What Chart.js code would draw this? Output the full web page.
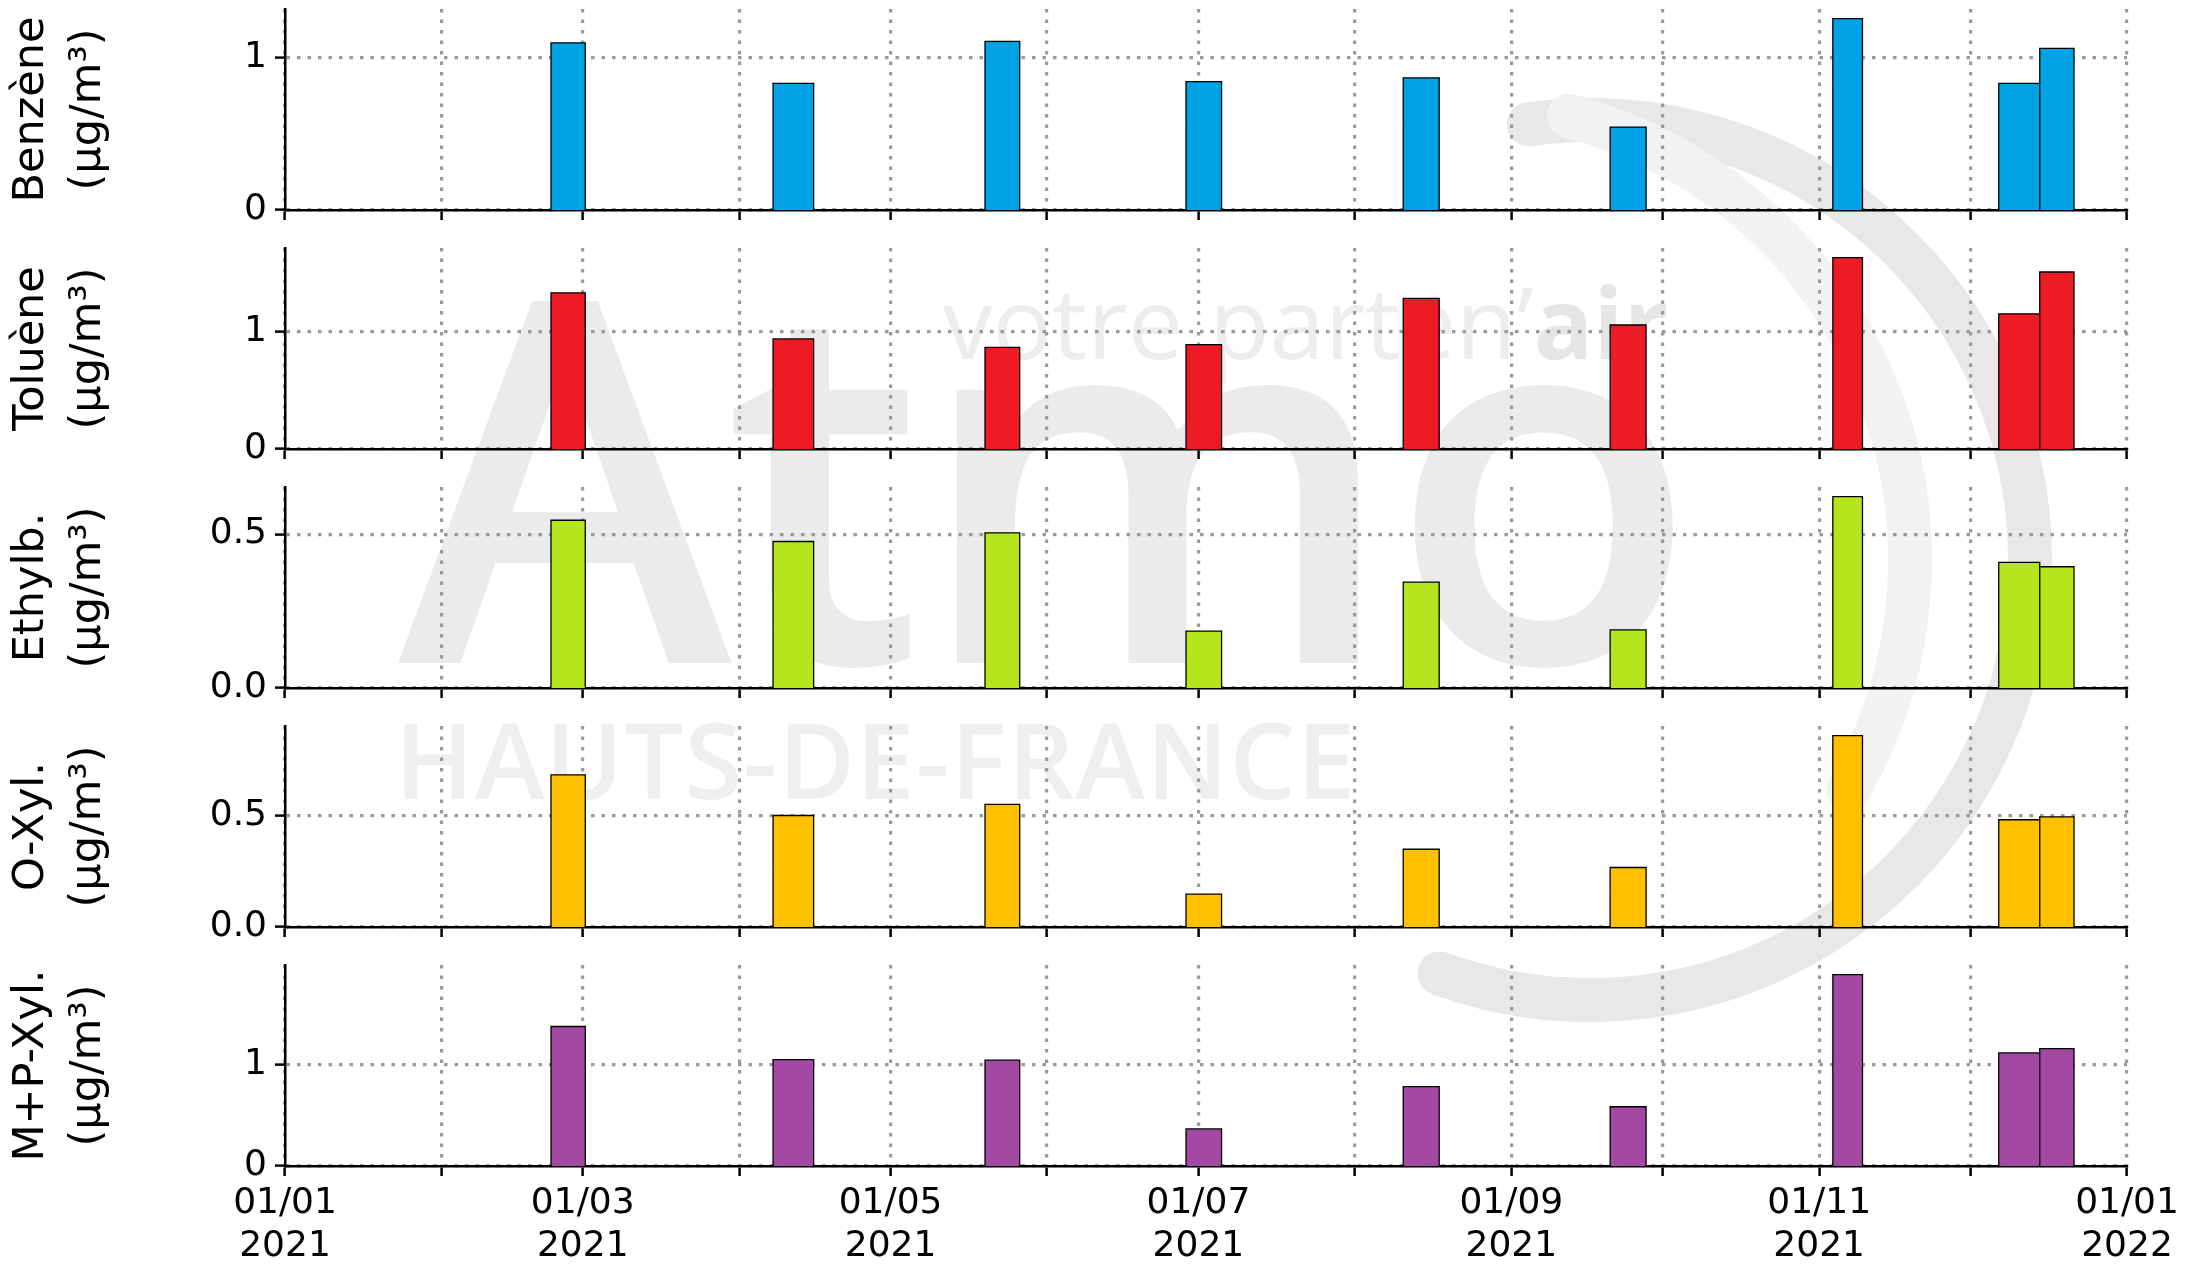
<!DOCTYPE html>
<html>
<head>
<meta charset="utf-8">
<script src="https://cdn.jsdelivr.net/npm/chart.js@4.4.1/dist/chart.umd.min.js"></script>
<style>
html,body{margin:0;padding:0;background:#fff;}
#page{position:relative;width:2190px;height:1271px;overflow:hidden;background:#fff;}
.wm{position:absolute;font-family:'Open Sans',sans-serif;white-space:nowrap;line-height:1;}
canvas{position:absolute;left:0;}
</style>
</head>
<body>
<div id="page">
  <svg width="2190" height="1271" style="position:absolute;left:0;top:0">
    <path id="arcOuter" fill="none" stroke="#e8e8e8" stroke-width="44" stroke-linecap="round"/>
    <path id="arcInner" fill="none" stroke="#f2f2f2" stroke-width="44" stroke-linecap="round"/>
  </svg>
  <div class="wm" style="left:398px;top:215px;font-size:505px;font-weight:600;color:#ebebeb;letter-spacing:-8px;">Atmo</div>
  <div class="wm" style="left:395px;top:706px;font-size:105px;font-weight:600;color:#efefef;letter-spacing:1px;">HAUTS-DE-FRANCE</div>
  <div class="wm" style="left:943px;top:271px;font-size:99px;font-weight:400;color:#ededed;">votre parten’<b style="font-weight:700;color:#e6e6e6">air</b></div>
</div>
<script>
// ---- data ----
const sampleStarts = ['2021-02-22T17:00','2021-04-07T17:00','2021-05-19T17:00','2021-06-28T13:00','2021-08-10T14:00','2021-09-20T14:00','2021-11-03T17:00','2021-12-06T14:00','2021-12-14T17:00'];
const sampleEnds   = ['2021-03-01T12:00','2021-04-15T18:00','2021-05-26T14:00','2021-07-05T14:00','2021-08-17T17:00','2021-09-27T17:00','2021-11-09T14:00','2021-12-14T17:00','2021-12-21T12:00'];
const benzene = [1.10, 0.834, 1.11, 0.845, 0.87, 0.546, 1.26, 0.834, 1.064];
const toluene = [1.33, 0.937, 0.865, 0.889, 1.283, 1.056, 1.63, 1.151, 1.507];
const ethylbenzene = [0.545, 0.476, 0.504, 0.185, 0.344, 0.189, 0.622, 0.408, 0.394];
const oXylene = [0.685, 0.502, 0.552, 0.148, 0.35, 0.268, 0.862, 0.483, 0.496];
const mpXylene = [1.38, 1.053, 1.047, 0.367, 0.785, 0.586, 1.894, 1.119, 1.162];
const seriesLabels = [['Benzène','(µg/m³)'],['Toluène','(µg/m³)'],['Ethylb.','(µg/m³)'],['O-Xyl.','(µg/m³)'],['M+P-Xyl.','(µg/m³)']];
const seriesColors = ['#00A2E6','#ED1C24','#B5E61D','#FFC000','#A349A4'];
const monthStarts = ['2021-01-01','2021-02-01','2021-03-01','2021-04-01','2021-05-01','2021-06-01','2021-07-01','2021-08-01','2021-09-01','2021-10-01','2021-11-01','2021-12-01','2022-01-01'];
const xTickLabels = [['01/01','2021'],'',['01/03','2021'],'',['01/05','2021'],'',['01/07','2021'],'',['01/09','2021'],'',['01/11','2021'],'',['01/01','2022']];
const yTickSteps = [1, 1, 0.5, 0.5, 1];
const yTickDecimals = [0, 0, 1, 1, 0];

// ---- helpers ----
const T0 = Date.UTC(2021, 0, 1);
function toDays(s) { return (Date.parse(s.length > 10 ? s + ':00Z' : s + 'T00:00:00Z') - T0) / 86400000; }
const monthTickValues = monthStarts.map(toDays);
const xMax = monthTickValues[monthTickValues.length - 1];

function barOutline(values) {
  const pts = [];
  values.forEach((v, i) => {
    const s = toDays(sampleStarts[i]), e = toDays(sampleEnds[i]);
    pts.push({x: s, y: 0}, {x: s, y: v}, {x: e, y: v}, {x: e, y: 0}, {x: e, y: null});
  });
  return pts;
}

// watermark arcs (decoration)
function arcPath(cx, cy, r, a0, a1) {
  const p = a => [cx + r * Math.cos(a * Math.PI / 180), cy + r * Math.sin(a * Math.PI / 180)];
  const [x0, y0] = p(a0), [x1, y1] = p(a1);
  const large = (a1 - a0) > 180 ? 1 : 0;
  return `M${x0},${y0} A${r},${r} 0 ${large} 1 ${x1},${y1}`;
}
document.getElementById('arcOuter').setAttribute('d', arcPath(1590, 560, 440, -98, 110));
document.getElementById('arcInner').setAttribute('d', arcPath(1450, 560, 460, -75, 30));

const allSeries = [benzene, toluene, ethylbenzene, oXylene, mpXylene];
const panelTops = [9, 248, 487, 726, 965];
const PLOT_H = 201, PAD_TOP = 9, AXIS_LEFT = 285, RIGHT_PAD = 63;
const FONT = "'DejaVu Sans', sans-serif";
const GRID = '#9a9a9a';

const page = document.getElementById('page');
allSeries.forEach((values, k) => {
  const isBottom = k === allSeries.length - 1;
  const xh = isBottom ? 105 : 14;
  const cv = document.createElement('canvas');
  cv.width = 2190;
  cv.height = PAD_TOP + PLOT_H + xh;
  cv.style.top = (panelTops[k] - PAD_TOP) + 'px';
  page.appendChild(cv);
  const yMax = 1.05 * Math.max(...values);
  new Chart(cv, {
    type: 'line',
    data: {
      datasets: [{
        data: barOutline(values),
        borderColor: '#000',
        borderWidth: 1.3,
        backgroundColor: seriesColors[k],
        fill: 'origin',
        pointRadius: 0,
        pointHoverRadius: 0,
        tension: 0,
        spanGaps: false,
        borderJoinStyle: 'miter'
      }]
    },
    options: {
      responsive: false,
      animation: false,
      devicePixelRatio: 1,
      events: [],
      layout: { padding: { top: PAD_TOP, right: RIGHT_PAD, left: 0, bottom: 0 } },
      plugins: { legend: { display: false }, tooltip: { enabled: false } },
      scales: {
        x: {
          type: 'linear',
          min: 0,
          max: xMax,
          afterBuildTicks: s => { s.ticks = monthTickValues.map(v => ({ value: v })); },
          afterFit: s => { s.height = xh; s.paddingLeft = 0; s.paddingRight = 0; },
          ticks: {
            display: isBottom,
            autoSkip: false,
            maxRotation: 0,
            padding: 6,
            color: '#000',
            font: { family: FONT, size: 36, lineHeight: 1.2 },
            callback: (v, i) => xTickLabels[i]
          },
          grid: { color: GRID, lineWidth: 3.2, drawTicks: true, tickLength: 10, tickColor: '#000', tickWidth: 2.5, tickBorderDash: [] },
          border: { display: true, color: '#000', width: 2.5, dash: [3.5, 7] }
        },
        y: {
          min: 0,
          max: yMax,
          afterFit: s => { s.width = AXIS_LEFT; s.paddingTop = 0; s.paddingBottom = 0; },
          ticks: {
            stepSize: yTickSteps[k],
            includeBounds: false,
            padding: 8,
            color: '#000',
            font: { family: FONT, size: 36 },
            callback: v => Number(v).toFixed(yTickDecimals[k])
          },
          title: {
            display: true,
            text: seriesLabels[k],
            color: '#000',
            font: { family: FONT, size: 43, lineHeight: 1.33 },
            padding: { top: 3, bottom: 0 }
          },
          grid: { color: GRID, lineWidth: 3.2, drawTicks: true, tickLength: 10, tickColor: '#000', tickWidth: 2.5, tickBorderDash: [] },
          border: { display: true, color: '#000', width: 2.5, dash: [3.5, 7] }
        }
      }
    }
  });
});
</script>
</body>
</html>
